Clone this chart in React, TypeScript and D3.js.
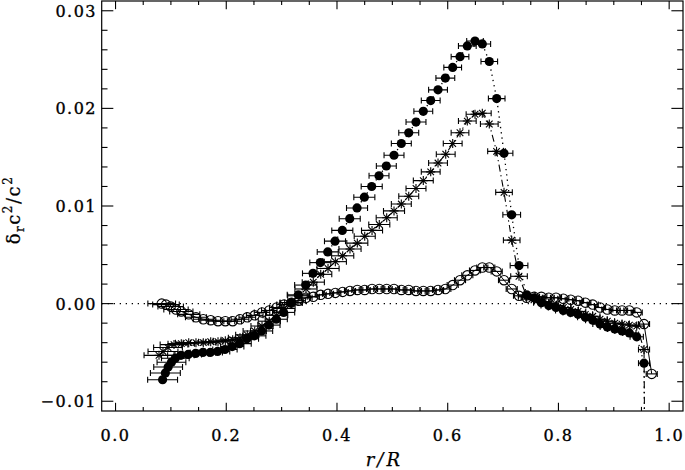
import * as d3 from "d3";

const W = 685, H = 470;
const left = 101.7, right = 683, top = 1, bottom = 411;

// axis ticks
const xTicks = [0.0, 0.2, 0.4, 0.6, 0.8, 1.0];
const xTickLabels = ["0.0", "0.2", "0.4", "0.6", "0.8", "1.0"];
const yTicks = [-0.01, 0.0, 0.01, 0.02, 0.03];
const yTickLabels = ["\u22120.01", "0.00", "0.01", "0.02", "0.03"];

// [r/R, delta c^2/c^2, horizontal error]
const filled: [number, number, number][] = [
  [0.085, -0.0078, 0.027], [0.090, -0.0071, 0.027], [0.095, -0.0065, 0.026], [0.101, -0.0060, 0.026],
  [0.108, -0.0056, 0.025], [0.1181, -0.0053, 0.024], [0.1313, -0.0052, 0.024], [0.1446, -0.0051, 0.023],
  [0.1578, -0.0050, 0.023], [0.1711, -0.0050, 0.022], [0.1843, -0.0049, 0.022], [0.1976, -0.0047, 0.022],
  [0.2108, -0.0044, 0.021], [0.2241, -0.0041, 0.021], [0.2373, -0.0036, 0.021], [0.2506, -0.0033, 0.021],
  [0.2638, -0.0028, 0.020], [0.2771, -0.0022, 0.020], [0.2903, -0.0016, 0.020], [0.3036, -0.0009, 0.020],
  [0.3168, 0.0001, 0.020], [0.3301, 0.0009, 0.020], [0.3435, 0.0019, 0.020], [0.3567, 0.0031, 0.019],
  [0.3699, 0.0042, 0.019], [0.3833, 0.0053, 0.019], [0.3964, 0.0064, 0.019], [0.4096, 0.0075, 0.019],
  [0.4230, 0.0087, 0.019], [0.4362, 0.0098, 0.019], [0.4494, 0.0109, 0.019], [0.4627, 0.0120, 0.019],
  [0.4759, 0.0131, 0.018], [0.4891, 0.0141, 0.018], [0.5030, 0.0152, 0.018], [0.5162, 0.0164, 0.018],
  [0.5296, 0.0175, 0.018], [0.5427, 0.0186, 0.018], [0.5559, 0.0197, 0.017], [0.5693, 0.0208, 0.017],
  [0.5825, 0.0219, 0.017], [0.5957, 0.0231, 0.017], [0.6090, 0.0242, 0.016], [0.6222, 0.0253, 0.016],
  [0.6354, 0.0264, 0.016], [0.6493, 0.0269, 0.015], [0.6625, 0.0266, 0.015], [0.6751, 0.0248, 0.015],
  [0.6885, 0.0210, 0.015], [0.7017, 0.0154, 0.016], [0.7156, 0.0091, 0.016], [0.7288, 0.0039, 0.016],
  [0.7427, 0.0009, 0.015], [0.7559, 0.0006, 0.015], [0.7691, 0.0001, 0.014], [0.7825, -0.0002, 0.014],
  [0.7956, -0.0004, 0.014], [0.8088, -0.0007, 0.014], [0.8222, -0.0009, 0.014], [0.8354, -0.0011, 0.014],
  [0.8486, -0.0014, 0.014], [0.8620, -0.0017, 0.013], [0.8751, -0.0021, 0.013], [0.8883, -0.0024, 0.013],
  [0.9017, -0.0026, 0.013], [0.9149, -0.0028, 0.013], [0.9281, -0.0030, 0.012], [0.9414, -0.0034, 0.012],
  [0.9546, -0.0061, 0.010], [0.9600, -0.0500, 0.010],
];

const stars: [number, number, number][] = [
  [0.0785, -0.0053, 0.027], [0.0857, -0.0049, 0.027], [0.0948, -0.0045, 0.026], [0.1056, -0.0042, 0.025],
  [0.1188, -0.0041, 0.024], [0.1322, -0.0040, 0.024], [0.1453, -0.0040, 0.023], [0.1585, -0.0040, 0.023],
  [0.1719, -0.0039, 0.022], [0.1851, -0.0039, 0.022], [0.1983, -0.0038, 0.022], [0.2116, -0.0037, 0.021],
  [0.2248, -0.0035, 0.021], [0.2380, -0.0032, 0.021], [0.2514, -0.0028, 0.021], [0.2646, -0.0023, 0.020],
  [0.2777, -0.0018, 0.020], [0.2911, -0.0012, 0.020], [0.3043, -0.0005, 0.020], [0.3175, 0.0001, 0.020],
  [0.3309, 0.0008, 0.020], [0.3440, 0.0015, 0.020], [0.3572, 0.0022, 0.020], [0.3706, 0.0030, 0.020],
  [0.3838, 0.0036, 0.020], [0.3970, 0.0043, 0.020], [0.4103, 0.0049, 0.020], [0.4235, 0.0056, 0.020],
  [0.4367, 0.0062, 0.019], [0.4501, 0.0069, 0.019], [0.4633, 0.0075, 0.019], [0.4764, 0.0081, 0.019],
  [0.4898, 0.0088, 0.019], [0.5030, 0.0095, 0.019], [0.5162, 0.0102, 0.018], [0.5296, 0.0110, 0.018],
  [0.5427, 0.0118, 0.018], [0.5559, 0.0126, 0.018], [0.5693, 0.0135, 0.017], [0.5825, 0.0144, 0.017],
  [0.5964, 0.0153, 0.017], [0.6090, 0.0164, 0.017], [0.6222, 0.0175, 0.016], [0.6354, 0.0187, 0.016],
  [0.6493, 0.0194, 0.016], [0.6625, 0.0195, 0.016], [0.6751, 0.0184, 0.016], [0.6882, 0.0156, 0.016],
  [0.7017, 0.0114, 0.015], [0.7156, 0.0065, 0.015], [0.7288, 0.0028, 0.015], [0.7427, 0.0007, 0.015],
  [0.7559, 0.0004, 0.014], [0.7691, 0.0002, 0.014], [0.7825, 0.0000, 0.014], [0.7956, -0.0002, 0.014],
  [0.8088, -0.0004, 0.014], [0.8222, -0.0006, 0.014], [0.8354, -0.0008, 0.014], [0.8486, -0.0011, 0.013],
  [0.8620, -0.0013, 0.013], [0.8751, -0.0016, 0.013], [0.8883, -0.0018, 0.013], [0.9017, -0.0020, 0.013],
  [0.9149, -0.0021, 0.012], [0.9281, -0.0022, 0.012], [0.9414, -0.0023, 0.012], [0.9546, -0.0047, 0.010],
  [0.9600, -0.0500, 0.010],
];

const open: [number, number, number][] = [
  [0.0834, 0.0000, 0.025], [0.0911, -0.0001, 0.024], [0.0996, -0.0003, 0.023], [0.1092, -0.0006, 0.022],
  [0.1188, -0.0008, 0.021], [0.1322, -0.0011, 0.020], [0.1453, -0.0014, 0.019], [0.1585, -0.0016, 0.018],
  [0.1719, -0.0017, 0.018], [0.1851, -0.0018, 0.017], [0.1983, -0.0018, 0.017], [0.2116, -0.0018, 0.016],
  [0.2248, -0.0016, 0.016], [0.2380, -0.0014, 0.015], [0.2514, -0.0012, 0.015], [0.2646, -0.0009, 0.014],
  [0.2777, -0.0007, 0.014], [0.2911, -0.0004, 0.013], [0.3043, -0.0001, 0.013], [0.3175, 0.0001, 0.012],
  [0.3309, 0.0003, 0.012], [0.3440, 0.0006, 0.011], [0.3572, 0.0007, 0.011], [0.3706, 0.0009, 0.010],
  [0.3838, 0.0010, 0.010], [0.3970, 0.0011, 0.010], [0.4103, 0.0012, 0.010], [0.4235, 0.0013, 0.010],
  [0.4367, 0.0014, 0.010], [0.4501, 0.0014, 0.010], [0.4633, 0.0015, 0.010], [0.4764, 0.0015, 0.010],
  [0.4898, 0.0015, 0.010], [0.5030, 0.0015, 0.010], [0.5162, 0.0014, 0.010], [0.5296, 0.0014, 0.010],
  [0.5427, 0.0013, 0.010], [0.5559, 0.0013, 0.010], [0.5693, 0.0013, 0.010], [0.5825, 0.0014, 0.010],
  [0.5957, 0.0015, 0.010], [0.6090, 0.0019, 0.010], [0.6222, 0.0024, 0.010], [0.6354, 0.0029, 0.010],
  [0.6493, 0.0034, 0.010], [0.6625, 0.0037, 0.010], [0.6751, 0.0037, 0.010], [0.6885, 0.0033, 0.010],
  [0.7017, 0.0024, 0.010], [0.7156, 0.0015, 0.010], [0.7288, 0.0008, 0.010], [0.7427, 0.0006, 0.010],
  [0.7559, 0.0007, 0.010], [0.7691, 0.0007, 0.010], [0.7825, 0.0006, 0.010], [0.7956, 0.0006, 0.010],
  [0.8088, 0.0005, 0.010], [0.8222, 0.0004, 0.010], [0.8354, 0.0003, 0.010], [0.8486, 0.0001, 0.010],
  [0.8620, -0.0001, 0.010], [0.8751, -0.0004, 0.010], [0.8883, -0.0006, 0.010], [0.9017, -0.0007, 0.010],
  [0.9149, -0.0007, 0.010], [0.9281, -0.0007, 0.010], [0.9414, -0.0009, 0.010], [0.9546, -0.0021, 0.010],
  [0.9685, -0.0072, 0.010],
];

const font = "'DejaVu Serif', serif";

const x = d3.scaleLinear().domain([-0.025, 1.025]).range([left, right]);
const y = d3.scaleLinear().domain([-0.011, 0.031]).range([bottom, top]);

const line = d3
  .line<[number, number, number]>()
  .x((d) => x(d[0]))
  .y((d) => y(d[1]));

const ErrBars = ({ data }: { data: [number, number, number][] }) => (
  <g stroke="#000" strokeWidth={1.1}>
    {data.map((d, i) => {
      const cy = y(d[1]);
      const x0 = x(d[0] - d[2]);
      const x1 = x(d[0] + d[2]);
      return (
        <g key={i}>
          <line x1={x0} x2={x1} y1={cy} y2={cy} />
          <line x1={x0} x2={x0} y1={cy - 3} y2={cy + 3} />
          <line x1={x1} x2={x1} y1={cy - 3} y2={cy + 3} />
        </g>
      );
    })}
  </g>
);

const Star = ({ cx, cy }: { cx: number; cy: number }) => {
  const s = 4.5, t = 3.3;
  return (
    <g stroke="#000" strokeWidth={1.1}>
      <line x1={cx - s} x2={cx + s} y1={cy} y2={cy} />
      <line x1={cx} x2={cx} y1={cy - s} y2={cy + s} />
      <line x1={cx - t} x2={cx + t} y1={cy - t} y2={cy + t} />
      <line x1={cx - t} x2={cx + t} y1={cy + t} y2={cy - t} />
    </g>
  );
};

export default function App() {
  const yMinor = y.ticks(21);
  const xMinor = x.ticks(20);
  const ph = bottom - top, pw = right - left;
  const xMaj = ph * 0.02, yMaj = pw * 0.02;

  return (
    <svg
      width={W}
      height={H}
      viewBox={`0 0 ${W} ${H}`}
      style={{ position: "absolute", left: 0, top: 0, background: "#fff" }}
    >
      <defs>
        <clipPath id="plot">
          <rect x={left} y={top} width={pw} height={ph} />
        </clipPath>
      </defs>

      <g clipPath="url(#plot)">
        {/* zero line */}
        <line x1={left} x2={right} y1={y(0)} y2={y(0)} stroke="#000" strokeWidth={1.3} strokeDasharray="1.3 4.7" />

        {/* open circles, solid line */}
        <path d={line(open) || ""} fill="none" stroke="#000" strokeWidth={1} />
        <ErrBars data={open} />
        {open.map((d, i) => (
          <circle key={i} cx={x(d[0])} cy={y(d[1])} r={4.7} fill="none" stroke="#000" strokeWidth={1.1} />
        ))}

        {/* asterisks, dash-dot line */}
        <path d={line(stars) || ""} fill="none" stroke="#000" strokeWidth={1.1} strokeDasharray="7 3.5 1.3 3.5" />
        <ErrBars data={stars} />
        {stars.map((d, i) => (
          <Star key={i} cx={x(d[0])} cy={y(d[1])} />
        ))}

        {/* filled circles, dotted line */}
        <path d={line(filled) || ""} fill="none" stroke="#000" strokeWidth={1.3} strokeDasharray="1.3 4" />
        <ErrBars data={filled} />
        {filled.map((d, i) => (
          <circle key={i} cx={x(d[0])} cy={y(d[1])} r={4.6} fill="#000" />
        ))}
      </g>

      {/* frame */}
      <rect x={left} y={top} width={pw} height={ph} fill="none" stroke="#000" strokeWidth={1.2} />

      {/* ticks on all four sides */}
      <g stroke="#000" strokeWidth={1.1}>
        {xMinor.map((t, i) => {
          const major = xTicks.some((m) => Math.abs(m - t) < 1e-9);
          const len = major ? xMaj : xMaj / 2;
          return (
            <g key={i}>
              <line x1={x(t)} x2={x(t)} y1={bottom} y2={bottom - len} />
              <line x1={x(t)} x2={x(t)} y1={top} y2={top + len} />
            </g>
          );
        })}
        {yMinor.map((t, i) => {
          const major = yTicks.some((m) => Math.abs(m - t) < 1e-9);
          const len = major ? yMaj : yMaj / 2;
          return (
            <g key={i}>
              <line x1={left} x2={left + len} y1={y(t)} y2={y(t)} />
              <line x1={right} x2={right - len} y1={y(t)} y2={y(t)} />
            </g>
          );
        })}
      </g>

      <g fontFamily={font} fontSize={16} fill="#000" stroke="#000" strokeWidth={0.35} letterSpacing={1.5}>
        {xTicks.map((t, i) => (
          <text key={i} x={x(t)} y={441} textAnchor="middle">
            {xTickLabels[i]}
          </text>
        ))}
        {yTicks.map((t, i) => (
          <text key={i} x={97} y={y(t) + 6} textAnchor="end">
            {yTickLabels[i]}
          </text>
        ))}
      </g>

      {/* axis titles */}
      <text x={(left + right) / 2 - 8} y={466} fontFamily={font} fontSize={18} fontStyle="italic" textAnchor="middle" letterSpacing={3} stroke="#000" strokeWidth={0.25}>
        r/R
      </text>
      <text transform="translate(20,210) rotate(-90)" fontFamily={font} fontSize={18} textAnchor="middle" letterSpacing={1.5} stroke="#000" strokeWidth={0.25}>
        <tspan>δ</tspan>
        <tspan fontSize={12} dy={4}>r</tspan>
        <tspan dy={-4}>c</tspan>
        <tspan fontSize={12} dy={-8}>2</tspan>
        <tspan dy={8}>/c</tspan>
        <tspan fontSize={12} dy={-8}>2</tspan>
      </text>
    </svg>
  );
}
